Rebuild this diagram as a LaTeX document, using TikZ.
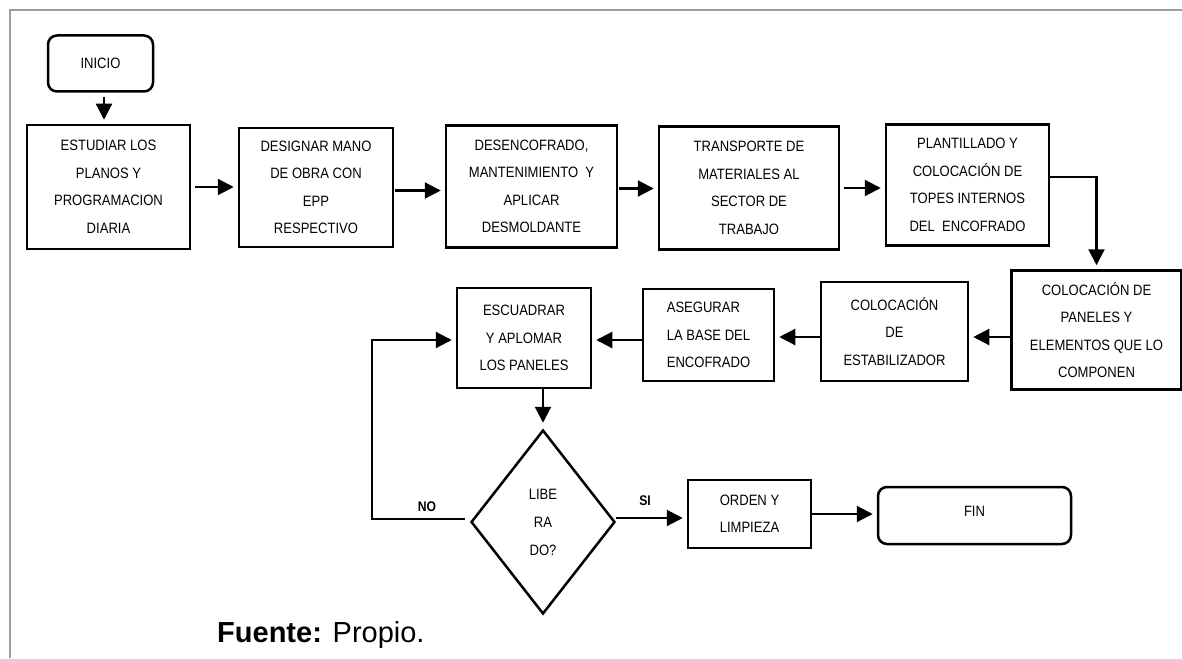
\documentclass[tikz,border=0pt]{standalone}
\usepackage{fontspec}
\setmainfont{Liberation Sans}
\newfontfamily\narrowfont[FakeStretch=0.87]{Liberation Sans}
\usetikzlibrary{shapes.geometric,arrows.meta}
\tikzset{
  box/.style={draw, line width=2.5pt, inner sep=0pt, align=center,
    font=\narrowfont\fontsize{15}{27.5}\selectfont},
  rbox/.style={box, rounded corners=9pt},
  arr/.style={line width=2.2pt, -{Triangle[length=16pt,width=16pt]}, shorten >=4pt},
  lbl/.style={font=\bfseries\narrowfont\fontsize{14}{16}\selectfont, inner sep=0pt},
  frame/.style={draw=gray!75, line width=2.5pt}
}
\begin{document}
\begin{tikzpicture}[x=1pt,y=-1pt]
\useasboundingbox (0,0) rectangle (1182,658);
\draw[frame] (10,658) -- (10,10) -- (1182,10);

\node[rbox, minimum width=105, minimum height=56] (ini) at (100.5,63.5) {INICIO\strut};

\node[box, minimum width=163, minimum height=124] (b1) at (108.5,187) {ESTUDIAR LOS\\PLANOS Y\\PROGRAMACION\\DIARIA};
\node[box, minimum width=154, minimum height=119] (b2) at (316,187.5) {DESIGNAR MANO\\DE OBRA CON\\EPP\\RESPECTIVO};
\node[box, minimum width=171, minimum height=122] (b3) at (531.5,186.5) {DESENCOFRADO,\\MANTENIMIENTO\ \ Y\\APLICAR\\DESMOLDANTE};
\node[box, minimum width=180, minimum height=123] (b4) at (749,188) {TRANSPORTE DE\\MATERIALES AL\\SECTOR DE\\TRABAJO};
\node[box, minimum width=163, minimum height=121] (b5) at (967.5,185) {PLANTILLADO Y\\COLOCACIÓN DE\\TOPES INTERNOS\\DEL\ \ ENCOFRADO};

\node[box, minimum width=170, minimum height=119] (b6) at (1096.5,330) {COLOCACIÓN DE\\PANELES Y\\ELEMENTOS QUE LO\\COMPONEN};
\node[box, minimum width=147, minimum height=99] (b7) at (894.5,331.5) {COLOCACIÓN\\DE\\ESTABILIZADOR};
\node[box, minimum width=131, minimum height=92, align=left] (b8) at (708.5,335) {ASEGURAR\\LA BASE DEL\\ENCOFRADO};
\node[box, minimum width=134, minimum height=100] (b9) at (524,338) {ESCUADRAR\\Y APLOMAR\\LOS PANELES};

\node[diamond, draw, line width=2.5pt, inner sep=0pt, minimum width=144, minimum height=184,
  align=center, font=\narrowfont\fontsize{15}{28}\selectfont] (d) at (543,522) {LIBE\\RA\\DO?};
\node[box, minimum width=123, minimum height=68] (b10) at (749.5,514) {ORDEN Y\\LIMPIEZA};
\node[rbox, minimum width=193, minimum height=57] (fin) at (974.5,515.5) {};
\node[font=\narrowfont\fontsize{15}{18}\selectfont, inner sep=0pt] (fint) at (974.5,511) {FIN};

\draw[arr, shorten <=4pt] (ini.south -| 104,0) -- (b1.north -| 104,0);
\draw[arr, shorten <=4pt] (b1.east) -- (b1.east -| b2.west);
\draw[arr, shorten <=1pt] ([yshift=-3pt]b2.east) -- ([yshift=-3pt]b2.east -| b3.west);
\draw[arr, shorten <=1pt] ([yshift=-2pt]b3.east) -- ([yshift=-2pt]b3.east -| b4.west);
\draw[arr, shorten <=4pt] (b4.east) -- (b4.east -| b5.west);
\draw[arr, shorten <=0pt] ([yshift=8pt]b5.east) -| (b6.north);
\draw[arr] ([yshift=-7pt]b6.west) -- ([yshift=-7pt]b6.west -| b7.east);
\draw[arr] ([yshift=-5.5pt]b7.west) -- ([yshift=-5.5pt]b7.west -| b8.east);
\draw[arr] ([yshift=-5pt]b8.west) -- ([yshift=-5pt]b8.west -| b9.east);
\draw[arr, shorten >=6pt] (b9.south -| d.north) -- (d.north);
\draw[arr, shorten <=5pt] ([yshift=3pt]d.west) -- ++(-98,0) |- ([yshift=-2pt]b9.west);
\draw[arr] ([yshift=4pt]d.east) -- ([yshift=4pt]d.east -| b10.west);
\draw[arr, shorten <=0pt] (b10.east) -- (b10.east -| fin.west);

\node[lbl] (no) at (427,507) {NO};
\node[lbl] (si) at (645,501) {SI};

\node[anchor=base west, inner sep=0pt, font=\fontsize{29}{34}\selectfont] (src) at (217,642) {\textbf{Fuente:} Propio.};
\end{tikzpicture}
\end{document}
